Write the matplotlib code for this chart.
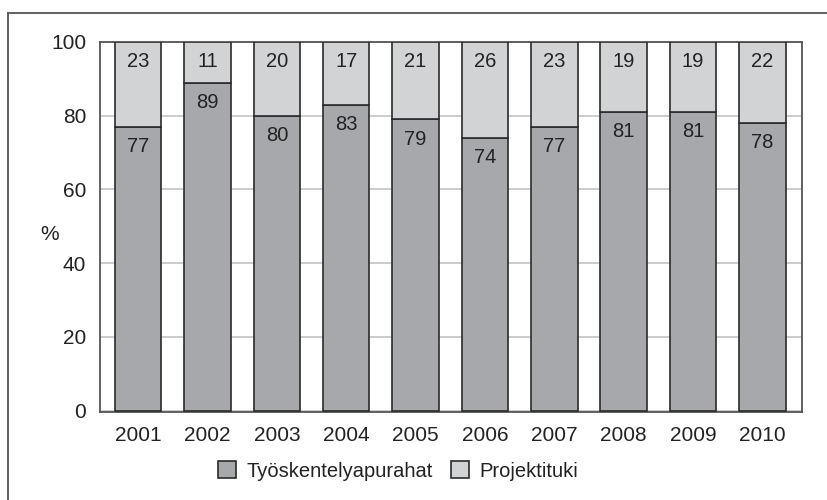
import matplotlib
matplotlib.use("Agg")
import matplotlib.pyplot as plt
from matplotlib.lines import Line2D
from matplotlib.font_manager import fontManager

names = {f.name for f in fontManager.ttflist}
fam = ['Liberation Sans Narrow', 'DejaVu Sans'] if 'Liberation Sans Narrow' in names else ['Liberation Sans', 'DejaVu Sans']
plt.rcParams['font.family'] = fam

years = ['2001', '2002', '2003', '2004', '2005', '2006', '2007', '2008', '2009', '2010']
tyoskentely = [77, 89, 80, 83, 79, 74, 77, 81, 81, 78]
projekti = [23, 11, 20, 17, 21, 26, 23, 19, 19, 22]
series_names = ['Työskentelyapurahat', 'Projektituki']
yticks = [0, 20, 40, 60, 80, 100]

dark = '#a7a8ab'
light = '#d2d3d5'
edge = '#2b2b2b'

fig = plt.figure(figsize=(8.27, 5.0), dpi=100)
ax = fig.add_axes([100/827, 1-412/500, 702/827, 370/500])

x = list(range(len(years)))
w = 0.67
ax.bar(x, tyoskentely, width=w, color=dark, edgecolor=edge, linewidth=1.2, zorder=3, label=series_names[0])
ax.bar(x, projekti, bottom=tyoskentely, width=w, color=light, edgecolor=edge, linewidth=1.2, zorder=3, label=series_names[1])

for i in x:
    ax.text(i, tyoskentely[i] - 2.8, str(tyoskentely[i]), ha='center', va='top', fontsize=14.5, color='#222222', zorder=4)
    ax.text(i, 97.3, str(projekti[i]), ha='center', va='top', fontsize=14.5, color='#222222', zorder=4)

ax.set_xlim(-0.55, 9.57)
ax.set_ylim(-0.4, 100)
ax.set_yticks(yticks)
ax.set_yticklabels([str(t) for t in yticks], fontsize=15, color='#222222')
ax.set_xticks(x)
ax.set_xticklabels(years, fontsize=15, color='#222222')
ax.tick_params(length=0)
ax.tick_params(axis='y', pad=10)
ax.tick_params(axis='x', pad=10)
ax.yaxis.grid(True, color='#c4c4c4', linewidth=1.2, zorder=0)
ax.set_axisbelow(True)
for s in ax.spines.values():
    s.set_color('#555555')
    s.set_linewidth(1.3)

fig.text(50/827, 1-235/500, '%', fontsize=15, color='#222222', ha='center', va='center')

leg = fig.legend(loc='center', bbox_to_anchor=(398/827, 1-471/500), ncol=2, frameon=False,
                 fontsize=14.5, handlelength=0.9, handleheight=0.9, handletextpad=0.5, columnspacing=0.9)
for t in leg.get_texts():
    t.set_color('#222222')

fig.add_artist(Line2D([8/827, 8/827], [0, 1-13/500], color='#555555', linewidth=1.3, transform=fig.transFigure))
fig.add_artist(Line2D([8/827, 1], [1-13/500, 1-13/500], color='#555555', linewidth=1.3, transform=fig.transFigure))

fig.savefig('out.png', dpi=100)
